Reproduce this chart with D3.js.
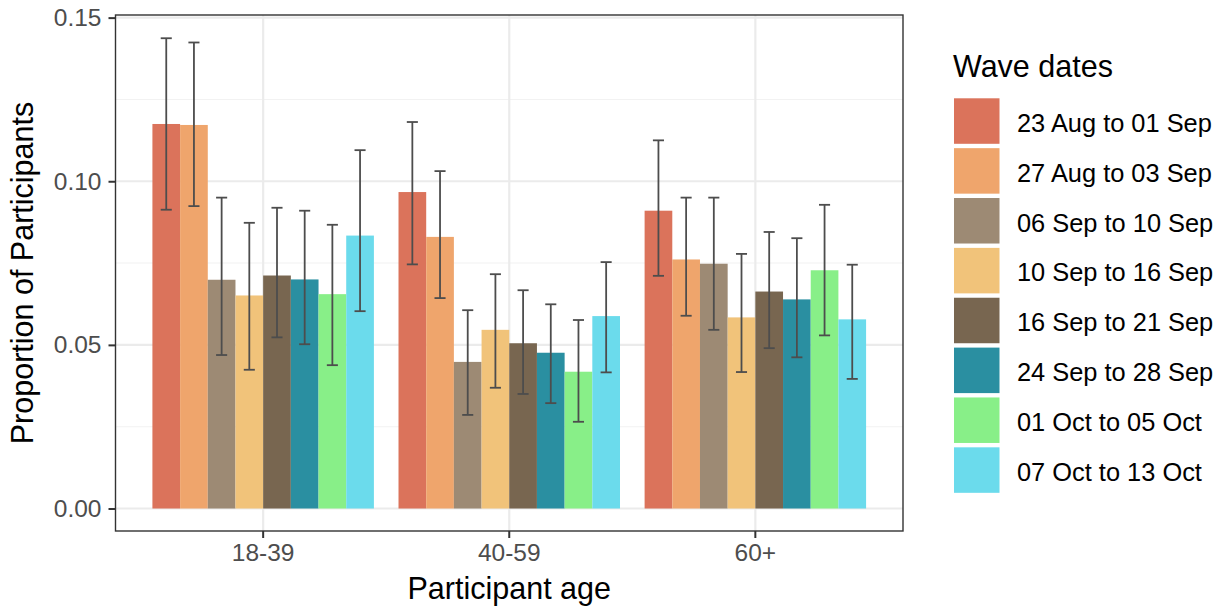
<!DOCTYPE html>
<html>
<head>
<meta charset="utf-8">
<script src="https://cdn.jsdelivr.net/npm/d3@7"></script>
<style>
  body { margin: 0; background: #fff; }
  svg { font-family: "Liberation Sans", Arial, sans-serif; }
</style>
</head>
<body>
<div id="chart"></div>
<script>
// age groups on the x axis
const ageGroups = ["18-39", "40-59", "60+"];
// survey waves (legend order)
const waves = ["23 Aug to 01 Sep", "27 Aug to 03 Sep", "06 Sep to 10 Sep", "10 Sep to 16 Sep",
               "16 Sep to 21 Sep", "24 Sep to 28 Sep", "01 Oct to 05 Oct", "07 Oct to 13 Oct"];
const waveColors = ["#DB735B", "#EFA56C", "#9D8A74", "#F1C37A", "#786650", "#2A8FA1", "#88EF88", "#6BDBEC"];

// proportion per age group, one entry per wave
const proportion = {
  "18-39": [0.1175, 0.1172, 0.0699, 0.0651, 0.0712, 0.0700, 0.0655, 0.0834],
  "40-59": [0.0967, 0.0830, 0.0448, 0.0546, 0.0505, 0.0476, 0.0418, 0.0588],
  "60+":   [0.0910, 0.0761, 0.0748, 0.0584, 0.0663, 0.0639, 0.0728, 0.0578]
};
// lower / upper confidence limits
const lower = {
  "18-39": [0.0913, 0.0924, 0.0469, 0.0424, 0.0523, 0.0502, 0.0438, 0.0603],
  "40-59": [0.0746, 0.0643, 0.0286, 0.0369, 0.0350, 0.0322, 0.0265, 0.0416],
  "60+":   [0.0711, 0.0589, 0.0546, 0.0417, 0.0490, 0.0462, 0.0529, 0.0396]
};
const upper = {
  "18-39": [0.1437, 0.1424, 0.0950, 0.0873, 0.0919, 0.0910, 0.0867, 0.1095],
  "40-59": [0.1181, 0.1031, 0.0606, 0.0716, 0.0667, 0.0624, 0.0576, 0.0753],
  "60+":   [0.1125, 0.0950, 0.0950, 0.0778, 0.0845, 0.0826, 0.0928, 0.0745]
};
const yTicks = [0, 0.05, 0.10, 0.15];
const yMinor = [0.025, 0.075, 0.125];

// flatten into rows
let rows = [];
ageGroups.forEach(g => {
  waves.forEach((w, i) => {
    rows.push({group: g, wave: w, value: proportion[g][i], lo: lower[g][i], hi: upper[g][i]});
  });
});

const W = 1223, H = 607;
const panel = {left: 115.5, right: 903, top: 15, bottom: 531};

const svg = d3.select("#chart").append("svg")
    .attr("width", W)
    .attr("height", H);

// scales
const x = d3.scaleBand()
    .domain(ageGroups)
    .range([panel.left, panel.right])
    .paddingInner(0.1)
    .paddingOuter(0.15);

const xWave = d3.scaleBand()
    .domain(waves)
    .range([0, x.bandwidth()]);

const y = d3.scaleLinear()
    .domain([-0.00687, 0.1508])
    .range([panel.bottom, panel.top]);

const color = d3.scaleOrdinal().domain(waves).range(waveColors);

// grid lines
svg.append("g").selectAll("line.minor")
    .data(yMinor)
    .join("line")
    .attr("x1", panel.left).attr("x2", panel.right)
    .attr("y1", d => y(d)).attr("y2", d => y(d))
    .attr("stroke", "#F2F2F2")
    .attr("stroke-width", 1.1);

svg.append("g").selectAll("line.major")
    .data(yTicks)
    .join("line")
    .attr("x1", panel.left).attr("x2", panel.right)
    .attr("y1", d => y(d)).attr("y2", d => y(d))
    .attr("stroke", "#EBEBEB")
    .attr("stroke-width", 2.2);

svg.append("g").selectAll("line.xgrid")
    .data(ageGroups)
    .join("line")
    .attr("x1", d => x(d) + x.bandwidth() / 2).attr("x2", d => x(d) + x.bandwidth() / 2)
    .attr("y1", panel.top).attr("y2", panel.bottom)
    .attr("stroke", "#EBEBEB")
    .attr("stroke-width", 2.2);

// bars
svg.append("g").selectAll("rect")
    .data(rows)
    .join("rect")
    .attr("x", d => x(d.group) + xWave(d.wave))
    .attr("y", d => y(d.value))
    .attr("width", xWave.bandwidth())
    .attr("height", d => y(0) - y(d.value))
    .attr("fill", d => color(d.wave));

// error bars
const capW = xWave.bandwidth() * 0.4;
const eb = svg.append("g")
    .attr("stroke", "#4D4D4D")
    .attr("stroke-width", 1.8);

eb.selectAll("line.stem")
    .data(rows)
    .join("line")
    .attr("x1", d => x(d.group) + xWave(d.wave) + xWave.bandwidth() / 2)
    .attr("x2", d => x(d.group) + xWave(d.wave) + xWave.bandwidth() / 2)
    .attr("y1", d => y(d.lo))
    .attr("y2", d => y(d.hi));

eb.selectAll("line.capTop")
    .data(rows)
    .join("line")
    .attr("x1", d => x(d.group) + xWave(d.wave) + xWave.bandwidth() / 2 - capW / 2)
    .attr("x2", d => x(d.group) + xWave(d.wave) + xWave.bandwidth() / 2 + capW / 2)
    .attr("y1", d => y(d.hi))
    .attr("y2", d => y(d.hi));

eb.selectAll("line.capBot")
    .data(rows)
    .join("line")
    .attr("x1", d => x(d.group) + xWave(d.wave) + xWave.bandwidth() / 2 - capW / 2)
    .attr("x2", d => x(d.group) + xWave(d.wave) + xWave.bandwidth() / 2 + capW / 2)
    .attr("y1", d => y(d.lo))
    .attr("y2", d => y(d.lo));

// panel border
svg.append("rect")
    .attr("x", panel.left)
    .attr("y", panel.top)
    .attr("width", panel.right - panel.left)
    .attr("height", panel.bottom - panel.top)
    .attr("fill", "none")
    .attr("stroke", "#333333")
    .attr("stroke-width", 1.4);

// axes
const yAxis = svg.append("g")
    .attr("transform", "translate(" + panel.left + ",0)")
    .call(d3.axisLeft(y).tickValues(yTicks).tickFormat(d3.format(".2f")).tickSize(7).tickPadding(7));
yAxis.select(".domain").remove();

const xAxis = svg.append("g")
    .attr("transform", "translate(0," + panel.bottom + ")")
    .call(d3.axisBottom(x).tickSize(7).tickPadding(6));
xAxis.select(".domain").remove();

svg.selectAll(".tick line")
    .attr("stroke", "#333333")
    .attr("stroke-width", 2);
svg.selectAll(".tick text")
    .attr("fill", "#4D4D4D")
    .style("font-size", "24.5px")
    .style("font-family", "'Liberation Sans', Arial, sans-serif");

// axis titles
svg.append("text")
    .attr("x", (panel.left + panel.right) / 2)
    .attr("y", 599)
    .attr("text-anchor", "middle")
    .style("font-size", "30.5px")
    .text("Participant age");

svg.append("text")
    .attr("transform", "translate(33," + ((panel.top + panel.bottom) / 2) + ") rotate(-90)")
    .attr("text-anchor", "middle")
    .style("font-size", "30.5px")
    .text("Proportion of Participants");

// legend
const legend = svg.append("g").attr("transform", "translate(954,0)");
legend.append("text")
    .attr("x", -1)
    .attr("y", 77)
    .style("font-size", "30.5px")
    .text("Wave dates");

const keys = legend.selectAll("g.key")
    .data(waves)
    .join("g")
    .attr("transform", (d, i) => "translate(0," + (98.3 + i * 49.86) + ")");

keys.append("rect")
    .attr("width", 45.5)
    .attr("height", 45.5)
    .attr("fill", d => color(d));

keys.append("text")
    .attr("x", 63)
    .attr("y", 33.5)
    .style("font-size", "25.4px")
    .text(d => d);
</script>
</body>
</html>
